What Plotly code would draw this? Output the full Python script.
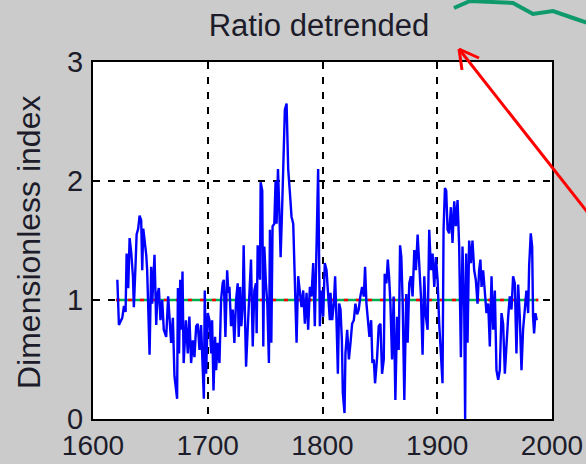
import plotly.graph_objects as go

years = [
    1621.2, 1622.6, 1624.0, 1625.5, 1627.0, 1628.4, 1629.3, 1630.7, 1631.9, 1633.3,
    1634.8, 1635.6, 1637.1, 1638.0, 1639.4, 1640.6, 1642.0, 1642.9, 1643.8, 1645.2,
    1646.4, 1647.2, 1649.3, 1650.7, 1651.6, 1653.6, 1655.1, 1656.2, 1657.4, 1658.8,
    1660.3, 1661.7, 1663.8, 1665.5, 1667.0, 1668.1, 1669.6, 1671.0, 1673.3, 1674.0,
    1675.0, 1676.0, 1677.0, 1678.0, 1679.0, 1681.0, 1682.6, 1684.0, 1685.5, 1687.0,
    1688.4, 1689.9, 1691.3, 1692.8, 1694.2, 1695.7, 1696.6, 1697.4, 1698.6, 1700.0,
    1701.5, 1703.0, 1703.8, 1705.0, 1706.4, 1707.3, 1708.7, 1710.2, 1711.6, 1713.0,
    1714.0, 1715.4, 1716.9, 1718.0, 1718.9, 1720.3, 1721.8, 1723.2, 1724.7, 1726.1,
    1727.0, 1728.2, 1729.3, 1730.5, 1731.3, 1732.2, 1733.4, 1734.8, 1736.3, 1737.7,
    1739.2, 1740.6, 1742.0, 1742.6, 1743.5, 1745.5, 1746.1, 1747.5, 1748.4, 1749.3,
    1750.7, 1751.9, 1753.3, 1754.2, 1755.4, 1756.5, 1758.0, 1759.1, 1760.0, 1761.2,
    1762.3, 1763.5, 1764.6, 1765.8, 1767.2, 1768.7, 1770.1, 1771.6, 1773.0, 1774.5,
    1775.9, 1777.4, 1778.8, 1780.3, 1781.7, 1783.2, 1784.6, 1786.1, 1787.5, 1789.0,
    1790.4, 1791.9, 1793.3, 1794.8, 1796.2, 1797.7, 1799.1, 1800.6, 1802.0, 1803.5,
    1804.9, 1806.4, 1807.0, 1808.4, 1809.9, 1811.0, 1812.2, 1813.4, 1814.5, 1815.7,
    1816.9, 1817.7, 1819.2, 1820.0, 1821.5, 1823.0, 1824.4, 1825.8, 1827.3, 1828.7,
    1830.2, 1831.6, 1833.0, 1834.5, 1836.0, 1837.1, 1838.3, 1839.5, 1840.9, 1842.4,
    1843.5, 1844.7, 1845.8, 1847.6, 1849.0, 1850.5, 1851.9, 1853.4, 1854.2, 1855.7,
    1856.9, 1858.0, 1859.2, 1860.6, 1862.0, 1863.5, 1865.0, 1866.4, 1867.6, 1868.7,
    1869.9, 1871.3, 1872.3, 1873.0, 1874.2, 1875.6, 1877.0, 1878.5, 1880.0, 1881.4,
    1882.9, 1884.3, 1885.8, 1887.2, 1888.7, 1890.1, 1891.6, 1893.0, 1894.5, 1895.9,
    1897.4, 1898.8, 1900.3, 1901.7, 1903.2, 1904.6, 1905.5, 1906.7, 1907.8, 1909.0,
    1910.4, 1911.9, 1913.3, 1914.8, 1916.2, 1917.7, 1919.1, 1920.6, 1922.0, 1923.5,
    1924.3, 1925.2, 1926.4, 1927.8, 1929.3, 1930.7, 1932.2, 1933.6, 1935.1, 1936.5,
    1937.6, 1938.6, 1940.0, 1941.5, 1942.9, 1944.4, 1945.8, 1947.3, 1948.7, 1950.2,
    1951.6, 1953.1, 1954.5, 1956.0, 1957.4, 1958.9, 1960.3, 1961.8, 1963.2, 1964.7,
    1966.1, 1967.6, 1969.0, 1970.5, 1971.9, 1973.4, 1974.8, 1976.3, 1977.7, 1979.2,
    1980.1, 1981.5, 1982.7, 1983.5, 1984.4, 1985.6, 1986.7,
]
ratio = [
    1.17, 0.79, 0.82, 0.85, 0.95, 0.90, 1.39, 1.10, 1.52, 1.40,
    1.20, 0.94, 1.30, 1.55, 1.60, 1.71, 1.67, 1.25, 1.60, 1.50,
    1.38, 1.25, 0.54, 1.28, 0.97, 1.38, 0.79, 1.05, 1.10, 0.83,
    1.00, 0.75, 0.69, 1.03, 0.80, 0.64, 0.85, 0.36, 0.17, 1.10,
    0.55, 1.17, 0.75, 1.24, 0.47, 0.83, 0.55, 0.86, 0.47, 0.66,
    0.52, 0.78, 0.80, 0.58, 0.79, 0.41, 0.17, 1.08, 0.38, 0.89,
    0.83, 0.55, 0.83, 0.24, 0.69, 0.41, 0.64, 0.47, 1.00, 1.14,
    1.17, 0.69, 1.25, 1.06, 1.11, 0.78, 0.92, 0.64, 1.00, 1.14,
    0.69, 1.11, 0.78, 0.97, 1.46, 0.97, 0.44, 0.75, 1.03, 1.34,
    0.61, 1.08, 1.14, 0.72, 1.46, 1.17, 1.99, 1.92, 0.61, 1.45,
    1.14, 0.97, 0.47, 1.59, 0.64, 1.62, 1.64, 2.00, 1.64, 2.10,
    1.78, 1.36, 1.70, 2.12, 2.60, 2.65, 2.10, 1.90, 1.70, 1.64,
    1.08, 0.64, 1.20, 1.08, 0.94, 1.08, 0.80, 1.06, 0.75, 1.11,
    1.03, 1.31, 0.78, 1.45, 2.10, 0.78, 1.08, 0.86, 1.31, 1.25,
    1.08, 0.83, 1.06, 0.83, 0.97, 1.20, 0.83, 0.38, 0.97, 0.92,
    0.66, 0.22, 0.05, 0.55, 0.75, 0.50, 0.64, 0.80, 0.83, 0.97,
    0.88, 0.92, 1.03, 1.11, 1.03, 1.28, 0.97, 0.83, 0.69, 0.83,
    0.47, 0.50, 0.30, 0.52, 0.78, 0.80, 0.38, 0.50, 1.22, 1.14,
    1.34, 1.20, 0.97, 0.50, 1.03, 0.16, 0.86, 0.58, 1.46, 1.36,
    0.97, 0.16, 0.92, 1.05, 0.64, 1.14, 1.20, 1.03, 1.42, 1.25,
    1.55, 1.28, 1.03, 0.54, 1.20, 0.86, 0.75, 1.59, 1.25, 1.39,
    1.11, 1.36, 1.17, 0.80, 0.58, 0.30, 1.59, 1.94, 1.92, 1.59,
    1.56, 1.78, 1.48, 1.83, 1.62, 1.84, 1.45, 0.52, 1.45, 0.92,
    0.00, 1.39, 0.64, 1.50, 1.31, 1.50, 1.25, 1.17, 0.97, 1.25,
    1.34, 1.11, 1.25, 1.03, 0.89, 0.97, 0.61, 1.20, 0.75, 1.08,
    0.41, 0.33, 0.41, 0.89, 0.80, 0.38, 0.64, 0.86, 1.03, 0.92,
    1.20, 1.14, 0.55, 1.13, 0.86, 0.41, 0.75, 0.89, 1.08, 0.89,
    1.29, 1.56, 1.45, 0.86, 0.72, 0.89, 0.83,
]
mean_years = [1620, 1988]
mean_level = [1.0, 1.0]
x_ticks = [1600, 1700, 1800, 1900, 2000]
y_ticks = [0, 1, 2, 3]

W, H = 586, 464
L, R, T, B = 93, 552, 62, 419

FONT = "Liberation Sans, Arial, sans-serif"
TXT = "#1c1c2a"

fig = go.Figure()
fig.add_trace(go.Scatter(x=mean_years, y=mean_level, mode="lines",
                         line=dict(color="#00b050", width=2.5), hoverinfo="skip"))
fig.add_trace(go.Scatter(x=mean_years, y=mean_level, mode="lines",
                         line=dict(color="#ff0000", width=2.5, dash="4px,8px"), hoverinfo="skip"))
fig.add_trace(go.Scatter(x=years, y=ratio, mode="lines",
                         line=dict(color="#0000ff", width=2.4)))

def px(x, y):
    return (x - L) / (R - L), (B - y) / (B - T)

shapes = []
# red arrow
hx, hy = px(459, 49)
tx, ty = px(592, 218)
b1x, b1y = px(479, 58)
b2x, b2y = px(462, 70)
for (ax_, ay_) in [(tx, ty), (b1x, b1y), (b2x, b2y)]:
    shapes.append(dict(type="line", xref="paper", yref="paper", x0=ax_, y0=ay_, x1=hx, y1=hy,
                       line=dict(color="#ff0000", width=3)))
# green wavy line
gpts = [(454, 8), (470, 1), (513, 3), (533, 14), (553, 11), (573, 18), (588, 23)]
path = ""
for i, (gx, gy) in enumerate(gpts):
    a, b = px(gx, gy)
    path += ("M" if i == 0 else "L") + f"{a},{b} "
shapes.append(dict(type="path", xref="paper", yref="paper", path=path,
                   line=dict(color="#0e9a6c", width=4)))

fig.update_layout(
    width=W, height=H,
    margin=dict(l=L, r=W - R, t=T, b=H - B, autoexpand=False),
    paper_bgcolor="#cbcbcb", plot_bgcolor="#ffffff",
    showlegend=False,
    font=dict(family=FONT, color=TXT),
    title=dict(text="Ratio detrended", x=(319 - L) / (R - L), xref="paper", xanchor="center",
               y=1 - 25 / H, yref="container", yanchor="middle",
               font=dict(size=31, family=FONT, color=TXT)),
    shapes=shapes,
    annotations=[dict(text="Dimensionless index", textangle=-90, xref="paper", yref="paper",
                      x=px(29, 0)[0], y=px(0, 243)[1], xanchor="center", yanchor="middle",
                      showarrow=False, font=dict(size=32, family=FONT, color=TXT))],
)
fig.update_xaxes(range=[1600, 2000], tickvals=x_ticks, ticktext=[str(v) for v in x_ticks],
                 showgrid=True, gridcolor="#000000", gridwidth=2, griddash="7px,8px",
                 showline=True, linecolor="#000000", linewidth=2, mirror=True, automargin=False,
                 zeroline=False, ticks="", ticklabelstandoff=0,
                 tickfont=dict(size=28, family=FONT, color=TXT))
fig.update_yaxes(range=[0, 3], tickvals=y_ticks, ticktext=[str(v) for v in y_ticks],
                 showgrid=True, gridcolor="#000000", gridwidth=2, griddash="7px,8px",
                 showline=True, linecolor="#000000", linewidth=2, mirror=True, automargin=False,
                 zeroline=False, ticks="", ticklabelstandoff=2,
                 tickfont=dict(size=29, family=FONT, color=TXT))

fig.write_html("out.html")
